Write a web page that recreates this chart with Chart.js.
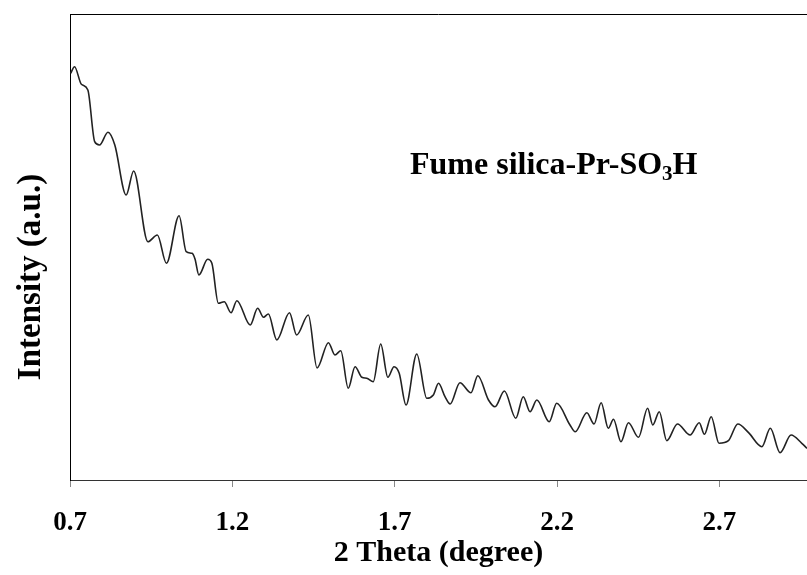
<!DOCTYPE html>
<html>
<head>
<meta charset="utf-8">
<script src="https://cdn.jsdelivr.net/npm/chart.js@4/dist/chart.umd.min.js"></script>
<style>
	html, body { margin: 0; padding: 0; background: #fff; }
	#wrap { width: 807px; height: 575px; }
</style>
</head>
<body>
<div id="wrap"><canvas id="xrd"></canvas></div>
<script>
// 2 theta positions (degree)
const THETA = [
	0.702, 0.714, 0.735, 0.755, 0.776, 0.791, 0.817, 0.838, 0.873, 0.896,
	0.940, 0.969, 0.997, 1.036, 1.058, 1.076, 1.085, 1.097, 1.124, 1.137,
	1.157, 1.175, 1.196, 1.214, 1.255, 1.278, 1.296, 1.311, 1.337, 1.376,
	1.398, 1.434, 1.461, 1.496, 1.516, 1.534, 1.557, 1.578, 1.599, 1.614,
	1.634, 1.657, 1.679, 1.698, 1.714, 1.735, 1.768, 1.799, 1.819, 1.835,
	1.855, 1.871, 1.901, 1.935, 1.956, 1.989, 2.009, 2.038, 2.073, 2.096,
	2.117, 2.138, 2.176, 2.199, 2.240, 2.256, 2.292, 2.314, 2.336, 2.358,
	2.374, 2.397, 2.420, 2.451, 2.479, 2.495, 2.515, 2.538, 2.571, 2.610,
	2.638, 2.654, 2.675, 2.699, 2.728, 2.757, 2.790, 2.831, 2.857, 2.887,
	2.921, 2.954, 2.970
];

// intensity (a.u.)
const INTENSITY = [
	406.7, 413.3, 395.7, 390.0, 338.3, 335.0, 347.7, 335.0, 285.0, 309.0,
	238.3, 245.0, 216.7, 264.3, 228.3, 226.7, 221.0, 205.0, 220.7, 216.7,
	176.7, 178.3, 167.3, 179.3, 155.0, 171.7, 162.7, 166.0, 140.0, 167.3,
	145.0, 165.0, 112.0, 137.3, 125.0, 129.3, 91.7, 113.3, 102.7, 101.7,
	98.3, 136.0, 102.7, 113.3, 106.7, 75.0, 126.0, 81.7, 85.0, 96.7,
	83.3, 76.0, 97.3, 87.3, 104.3, 80.0, 73.3, 89.0, 61.7, 83.3,
	68.3, 80.0, 58.3, 76.7, 55.0, 48.3, 67.3, 56.0, 77.3, 51.7,
	60.7, 38.3, 57.3, 42.7, 71.7, 55.0, 68.3, 39.3, 56.0, 45.0,
	57.3, 45.7, 63.3, 36.7, 39.3, 56.0, 47.3, 33.3, 51.7, 27.3,
	45.0, 36.7, 31.7
];

const X_TICKS = [0.7, 1.2, 1.7, 2.2, 2.7];
const SAMPLE_LABEL = ["Fume silica-Pr-SO", "3", "H"];
const Y_TITLE = "Intensity (a.u.)";

const SERIF = "'Liberation Serif', 'Times New Roman', serif";

// top frame line, y title (sits a bit below centre) and the sample label
const framePlugin = {
	id: "frame",
	afterDraw: (chart) => {
		const { ctx, chartArea } = chart;
		ctx.save();
		ctx.strokeStyle = "#000";
		ctx.lineWidth = 1;
		ctx.beginPath();
		ctx.moveTo(chartArea.left, chartArea.top + 0.5);
		ctx.lineTo(chartArea.right, chartArea.top + 0.5);
		ctx.stroke();

		ctx.fillStyle = "#000";

		// y axis title
		ctx.save();
		ctx.translate(31, 277);
		ctx.rotate(-Math.PI / 2);
		ctx.font = `bold 33px ${SERIF}`;
		ctx.textAlign = "center";
		ctx.textBaseline = "middle";
		ctx.fillText(Y_TITLE, 0, 0);
		ctx.restore();

		ctx.textBaseline = "alphabetic";
		let x = 410;
		const y = 174;
		ctx.font = `bold 32px ${SERIF}`;
		ctx.fillText(SAMPLE_LABEL[0], x, y);
		x += ctx.measureText(SAMPLE_LABEL[0]).width;
		ctx.font = `bold 21px ${SERIF}`;
		ctx.fillText(SAMPLE_LABEL[1], x, y + 6);
		x += ctx.measureText(SAMPLE_LABEL[1]).width;
		ctx.font = `bold 32px ${SERIF}`;
		ctx.fillText(SAMPLE_LABEL[2], x, y);
		ctx.restore();
	},
};

new Chart(document.getElementById("xrd"), {
	type: "line",
	data: {
		datasets: [
			{
				data: THETA.map((t, i) => ({ x: t, y: INTENSITY[i] })),
				borderColor: "#222",
				borderWidth: 1.6,
				pointRadius: 0,
				fill: false,
				cubicInterpolationMode: "monotone",
			},
		],
	},
	options: {
		responsive: true,
		maintainAspectRatio: false,
		animation: false,
		layout: { padding: { top: 14, right: 0, bottom: 0, left: 0 } },
		plugins: {
			legend: { display: false },
			tooltip: { enabled: false },
		},
		scales: {
			x: {
				type: "linear",
				min: 0.7,
				max: 2.97,
				afterBuildTicks: (scale) => {
					scale.ticks = X_TICKS.map((v) => ({ value: v }));
				},
				afterFit: (scale) => {
					scale.height = 95;
				},
				grid: {
					drawOnChartArea: false,
					drawTicks: true,
					tickLength: 7,
					color: "#888",
				},
				border: { display: true, color: "#333", width: 1 },
				ticks: {
					color: "#000",
					padding: 20,
					font: { family: SERIF, size: 27, weight: "bold" },
					callback: (v) => v.toFixed(1),
					maxRotation: 0,
				},
				title: {
					display: true,
					text: "2 Theta (degree)",
					color: "#000",
					font: { family: SERIF, size: 30, weight: "bold" },
					padding: { top: 0, bottom: 4 },
				},
			},
			y: {
				min: 0,
				max: 466,
				afterFit: (scale) => {
					scale.width = 70;
				},
				grid: { display: false },
				border: { display: true, color: "#000", width: 1 },
				ticks: { display: false },
			},
		},
	},
	plugins: [framePlugin],
});
</script>
</body>
</html>
